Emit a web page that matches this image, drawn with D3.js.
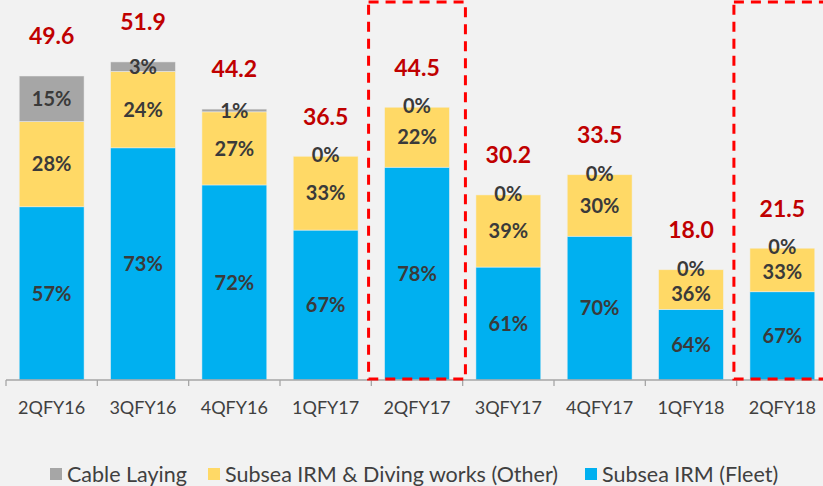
<!DOCTYPE html>
<html>
<head>
<meta charset="utf-8">
<script src="https://cdn.jsdelivr.net/npm/d3@7"></script>
<style>
  body { margin: 0; background: #f2f2f2; }
  svg { display: block; font-family: Lato, "Open Sans", sans-serif; }
</style>
</head>
<body>
<div id="chart"></div>
<script>
// quarters and totals
let quarters = ["2QFY16", "3QFY16", "4QFY16", "1QFY17", "2QFY17", "3QFY17", "4QFY17", "1QFY18", "2QFY18"];
let totals = [49.6, 51.9, 44.2, 36.5, 44.5, 30.2, 33.5, 18.0, 21.5];

// share of each segment in percent
let fleetShare = [57, 73, 72, 67, 78, 61, 70, 64, 67];
let otherShare = [28, 24, 27, 33, 22, 39, 30, 36, 33];
let cableShare = [15, 3, 1, 0, 0, 0, 0, 0, 0];

let seriesNames = ["Subsea IRM (Fleet)", "Subsea IRM & Diving works (Other)", "Cable Laying"];
let legendOrder = ["Cable Laying", "Subsea IRM & Diving works (Other)", "Subsea IRM (Fleet)"];

// quarters that get the red dashed box
let highlighted = ["2QFY17", "2QFY18"];

let w = 823;
let h = 486;

let colors = {
  "Subsea IRM (Fleet)": "#00b0f0",
  "Subsea IRM & Diving works (Other)": "#ffd966",
  "Cable Laying": "#a6a6a6"
};

let svg = d3.select("#chart").append("svg")
  .attr("width", w)
  .attr("height", h);

let x = d3.scaleBand().domain(quarters).range([6, 828]).paddingInner(0.29).paddingOuter(0.145);
let y = d3.scaleLinear().domain([0, 62]).range([380, 0]);

// build stacked rows (values in absolute units)
let rows = quarters.map(function(q, i){
  return {
    quarter: q,
    total: totals[i],
    "Subsea IRM (Fleet)": totals[i] * fleetShare[i] / 100,
    "Subsea IRM & Diving works (Other)": totals[i] * otherShare[i] / 100,
    "Cable Laying": totals[i] * cableShare[i] / 100,
    pct: [fleetShare[i], otherShare[i], cableShare[i]]
  };
});

let stacked = d3.stack().keys(seriesNames)(rows);

let layers = svg.selectAll(".layer").data(stacked).enter()
  .append("g")
  .attr("class", "layer")
  .attr("fill", function(d){ return colors[d.key]; });

layers.selectAll("rect").data(function(d){ return d; }).enter()
  .append("rect")
  .attr("x", function(d){ return x(d.data.quarter); })
  .attr("y", function(d){ return y(d[1]); })
  .attr("width", x.bandwidth())
  .attr("height", function(d){ return y(d[0]) - y(d[1]); })
  .attr("stroke", "#f2f2f2")
  .attr("stroke-opacity", 0.6)
  .attr("stroke-width", 0.8);

// axis
let axis = svg.append("g")
  .attr("transform", "translate(0,380)");
axis.append("line")
  .attr("x1", 6).attr("x2", 828)
  .attr("stroke", "#a6a6a6").attr("stroke-width", 1.3);
let tickPos = quarters.map(function(q){ return x(q) - x.step() * x.paddingInner() / 2; });
axis.selectAll(".tick").data(tickPos).enter()
  .append("line")
  .attr("x1", function(d){ return d; })
  .attr("x2", function(d){ return d; })
  .attr("y1", 0).attr("y2", 6)
  .attr("stroke", "#a6a6a6").attr("stroke-width", 1.3);
axis.selectAll(".ticklabel").data(quarters).enter()
  .append("text")
  .attr("x", function(d){ return x(d) + x.bandwidth() / 2; })
  .attr("y", 34)
  .attr("text-anchor", "middle")
  .attr("font-size", 18)
  .attr("fill", "#404040")
  .text(function(d){ return d; });

// label position for a segment; zero cable shares sit at the bar top,
// a yellow label under such a zero label gets pushed down a little
function labelY(d, li){
  let mid = (y(d[0]) + y(d[1])) / 2;
  if (li === 2 && d.data.pct[2] === 0) return y(d[1]) - 1;
  if (li === 1 && d.data.pct[2] === 0) {
    return Math.max(mid, y(d[1]) + 24);
  }
  return mid;
}

// segment percent labels
layers.each(function(layer, li){
  d3.select(this).selectAll("text").data(layer).enter()
    .append("text")
    .attr("x", function(d){ return x(d.data.quarter) + x.bandwidth() / 2; })
    .attr("y", function(d){ return labelY(d, li); })
    .attr("dy", "0.36em")
    .attr("text-anchor", "middle")
    .attr("font-size", 20)
    .attr("font-weight", "bold")
    .attr("fill", "#3a3a3a")
    .text(function(d){ return d.data.pct[li] + "%"; });
});

// totals in red
svg.selectAll(".total").data(rows).enter()
  .append("text")
  .attr("x", function(d){ return x(d.quarter) + x.bandwidth() / 2; })
  .attr("y", function(d){ return y(d.total) - 40; })
  .attr("dy", "0.36em")
  .attr("text-anchor", "middle")
  .attr("font-size", 23)
  .attr("font-weight", "bold")
  .attr("fill", "#c00000")
  .text(function(d){ return d.total.toFixed(1); });

// dashed highlight boxes
svg.selectAll(".hl").data(highlighted).enter()
  .append("rect")
  .attr("x", function(d){ return x(d) - 16; })
  .attr("y", 2)
  .attr("width", x.bandwidth() + 32)
  .attr("height", 377)
  .attr("fill", "none")
  .attr("stroke", "#ff0000")
  .attr("stroke-width", 3)
  .attr("stroke-dasharray", "10 7");

// legend
let legend = svg.append("g").attr("transform", "translate(0,474)");
let legendX = [50, 208, 585];
let items = legend.selectAll(".item").data(legendOrder).enter()
  .append("g")
  .attr("transform", function(d, i){ return "translate(" + legendX[i] + ",0)"; });
items.append("rect")
  .attr("x", 0).attr("y", -6)
  .attr("width", 12).attr("height", 12)
  .attr("fill", function(d){ return colors[d]; });
items.append("text")
  .attr("x", 17)
  .attr("dy", "0.36em")
  .attr("font-size", 21.5)
  .attr("fill", "#404040")
  .text(function(d){ return d; });
</script>
</body>
</html>
